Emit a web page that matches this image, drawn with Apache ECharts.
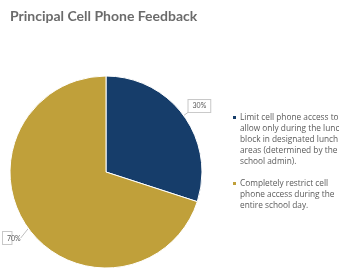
<!DOCTYPE html>
<html>
<head>
<meta charset="utf-8">
<script src="https://cdn.jsdelivr.net/npm/echarts@6/dist/echarts.min.js"></script>
<style>
  html, body { margin: 0; padding: 0; background: #fff; }
  #chart { width: 339px; height: 275px; }
</style>
</head>
<body>
<div id="chart"></div>
<script>
// categories and values
var categories = [
	'Limit cell phone access to allow only during the lunch block in designated lunch areas (determined by the school admin).',
	'Completely restrict cell phone access during the entire school day.'
];
var shares = [30, 70];
// legend text, broken as in the picture
var legendLines = [
	['Limit cell phone access to', 'allow only during the lunch', 'block in designated lunch', 'areas (determined by the', 'school admin).'],
	['Completely restrict cell', 'phone access during the', 'entire school day.']
];
var colors = ['#163d6a', '#c0a03a'];

var chart = echarts.init(document.getElementById('chart'));
var option = {
	color: colors,
	animation: false,
	title: {
		text: 'Principal Cell Phone Feedback',
		left: 5,
		top: 4,
		textStyle: {
			fontFamily: 'Lato',
			fontSize: 14,
			fontWeight: 'bold',
			color: '#6b6b6b'
		}
	},
	legend: {
		orient: 'vertical',
		left: 221,
		top: 107,
		icon: 'rect',
		itemWidth: 1,
		itemHeight: 1,
		itemGap: 11,
		align: 'left',
		itemStyle: { opacity: 0 },
		formatter: function(name) {
			var i = categories.indexOf(name);
			var lines = legendLines[i];
			return lines.map(function(l, k) {
				return (k === 0 ? '{m' + i + '|}{t|' : '{p|}{t|') + l + '}';
			}).join('\n');
		},
		textStyle: {
			fontFamily: 'Open Sans',
			fontSize: 8,
			lineHeight: 11,
			color: '#595959',
			rich: {
				m0: { width: 3, height: 3, backgroundColor: colors[0], padding: 0 },
				m1: { width: 3, height: 3, backgroundColor: colors[1], padding: 0 },
				p: { width: 3 },
				t: { fontFamily: 'Open Sans', fontSize: 8.3, lineHeight: 11, color: '#5a5a5a', padding: [0, 0, 0, 4] }
			}
		}
	},
	series: [{
		type: 'pie',
		center: [106, 172],
		radius: 96,
		startAngle: 90,
		clockwise: true,
		itemStyle: {
			borderColor: '#fff',
			borderWidth: 1
		},
		label: {
			position: 'outside',
			formatter: '{d}%',
			overflow: 'none',
			fontFamily: 'Lato',
			fontSize: 7,
			color: '#595959',
			backgroundColor: '#fff',
			borderColor: '#c8c8c8',
			borderWidth: 1,
			padding: [3, 4, 2, 4]
		},
		labelLine: {
			show: true,
			length: 6,
			length2: 0,
			lineStyle: {
				color: '#bfbfbf',
				width: 1
			}
		},
		labelLayout: function(params) {
			if (params.dataIndex === 0) {
				return { dx: -5, dy: -6 };
			}
			return { x: 3, y: 232, align: 'left', verticalAlign: 'top' };
		},
		data: categories.map(function(c, i) {
			return { name: c, value: shares[i] };
		})
	}]
};
chart.setOption(option);
</script>
</body>
</html>
